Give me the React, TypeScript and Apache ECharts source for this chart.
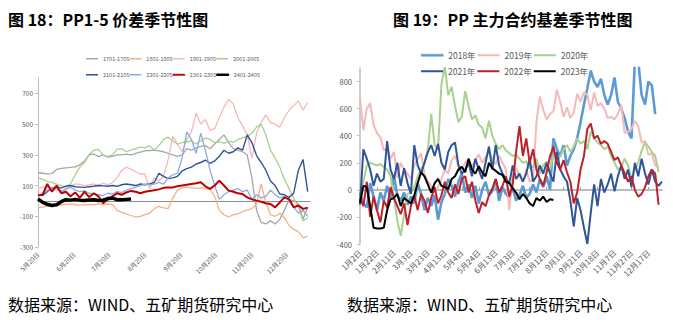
import React, { useEffect, useRef } from 'react';
import * as echarts from 'echarts';

// ---------- Left chart: PP1-5 spread seasonality ----------
const leftDateLabels = ['5月20日', '6月20日', '7月20日', '8月20日', '9月20日', '10月20日', '11月20日', '12月20日'];
const LEFT_STEP_DAYS = 4;
const LEFT_SPAN_DAYS = 234;

const s1701 = [185,180,176,178,205,212,215,218,222,235, 260,300,305,288,300,285,290,300,300,305, 300,310,318,325,328,330,325,320,310,300, 290,300,340,330,345,355,360,340,370,400, 430,380,340,330,320,300,150,-60,-140,-150, -130,-150,-120,-60,10,0,-20,-120,-40];
const s1801 = [-45,-40,-35,-30,-28,-25,-22,-20,-25,-28, -25,-22,-25,-20,-25,-20,-22,-60,-75,-85, -95,-105,-100,-90,-80,-50,-35,-45,-50,20, 70,85,90,85,82,85,80,75,30,-60, -90,-105,-90,-85,-70,-60,-50,-20,110,-10, -90,-100,-80,-110,-160,-185,-200,-240,-230];
const s1901 = [80,90,88,75,70,65,70,95,110,108, 100,105,110,100,115,105,120,150,200,220, 205,190,175,175,80,150,130,160,270,420, 370,320,400,450,570,500,530,460,470,545, 610,660,630,540,490,430,280,440,510,560, 510,500,480,545,590,620,650,590,640];
const s2001 = [150,140,125,120,110,100,95,110,170,220, 250,300,330,335,300,290,300,335,340,320, 330,340,350,345,360,330,360,400,415,390, 370,380,385,390,370,390,410,400,380,385, 375,390,380,400,410,420,440,480,500,430, 330,280,220,140,80,20,-40,-130,-110];
const s2101 = [40,35,60,85,90,85,95,100,92,90, 88,92,95,100,98,95,100,95,105,110, 105,100,110,105,110,120,180,160,145,150, 160,195,210,220,240,250,265,245,260,290, 330,310,320,345,330,430,380,295,250,200, 130,100,45,40,23,50,200,270,60];
const s2201 = [35,50,70,85,80,60,80,88,70,60, 65,50,45,40,35,50,45,60,55,70, 80,90,100,110,105,110,120,110,150,170, 180,280,450,400,310,440,330,200,100,10, 40,60,70,80,60,70,10,40,20,30, 70,40,20,30,10,-40,-80,-60,-100];
const s2301 = [35,40,110,60,100,50,60,30,55,20, 60,25,50,30,-15,10,30,50,40,55, 65,60,50,60,65,70,75,85,88,88, 95,100,105,110,115,121,95,78,100,132, 100,67,60,50,45,23,10,2,-5,-15, -20,-42,-10,23,10,-42,-30,-52,-45];
const s2401 = [13,-10,-22,-30,-25,-5,8,5,10,5, 2,6,8,3,5,15,18,8,8,10, 12];

// ---------- Right chart: PP main contract basis seasonality ----------
const rightDateLabels = ['1月2日','1月22日','2月11日','3月3日','3月23日','4月13日','5月4日','5月24日','6月13日','7月3日','7月23日','8月12日','9月1日','9月21日','10月18日','11月7日','11月27日','12月17日'];
const RIGHT_POINTS_PER_LABEL = 5;
const RIGHT_SPAN = 89;

const y2018 = [-20,-100,-130,50,-50,-150,-20,-80,30,-60, 100,-40,-80,-20,-110,-50,-100,50,-30,-150, -60,-120,-40,-220,-90,-30,80,30,-50,60, 120,-20,40,-60,30,-100,0,60,-40,-10, 80,-80,20,-30,-60,20,-80,-40,30,-60, -30,40,-20,80,20,100,0,380,300,250, 330,180,250,300,380,500,630,750,880,800, 760,820,700,630,700,830,650,600,530,430, 380,950,950,700,630,800,770,560];
const y2019 = [680,440,600,640,480,420,390,290,310,230, 280,90,200,150,120,80,180,230,270,120, 60,30,-20,20,80,150,120,220,250,180, 150,200,230,170,220,260,200,240,280,230, 190,250,200,150,-150,110,160,100,60,150, 60,80,500,690,590,520,560,580,740,650, 540,610,530,570,710,650,720,700,590,720, 620,640,600,530,540,520,560,630,420,430, 450,510,470,350,360,260,270,180,170];
const y2020 = [0,60,180,200,190,180,190,170,150,100, -60,-230,-340,-180,-30,-20,20,100,150,200, 300,560,330,300,780,910,700,760,620,500, 540,730,620,520,550,480,460,380,510,400, 340,300,330,290,270,250,260,230,200,210, 160,170,230,120,180,210,150,260,200,250, 300,330,280,320,380,340,360,300,430,380, 350,330,300,320,250,200,150,170,230,180, 80,150,200,290,350,320,280,250,130];
const y2021 = [-110,300,230,150,30,120,60,80,360,150, 80,200,30,160,50,-30,330,180,120,200, 280,330,250,340,200,150,280,330,350,180, 120,150,200,100,230,150,80,200,320,150, 330,180,120,80,50,180,80,120,60,120, 230,60,100,180,120,200,120,60,280,150, 100,60,-80,-270,-60,-150,-280,-400,-170,40, -120,80,-20,40,120,-10,100,180,80,150, 20,200,100,230,120,40,150,60,30,60];
const y2022 = [-60,-120,60,-200,-50,-150,-240,-80,-130,20, -60,-120,-180,-100,-260,-120,-40,-150,-30,-80, -170,-60,20,-100,-40,60,-20,-60,40,-30, 80,100,-20,60,-80,-170,-90,-120,-40,10, 80,-20,30,100,-50,40,280,470,250,380, 200,300,150,80,30,130,250,320,200,150, 220,130,60,-100,-20,150,250,450,490,380, 400,340,360,340,280,220,240,180,120,60, 100,0,-50,-30,20,100,150,120,-110];
const y2023 = [-95,30,20,-120,-280,-285,-285,-280,-150,-70, -60,-30,-120,-60,-80,-100,-40,50,130,100, 40,-20,50,80,30,20,5,80,100,150, 170,130,230,150,120,175,130,100,200,160, 140,120,110,60,50,10,-20,-70,-30,-60, -100,-120,-60,-80,-50,-90,-70,-75];

const FONT = '"Noto Sans CJK SC", "Noto Sans", sans-serif';
const GRAY_TEXT = '#595959';

function dayOffset(label: string): number {
  const m = parseInt(label, 10);
  return Math.round((Date.UTC(2023, m - 1, 20) - Date.UTC(2023, 4, 20)) / 86400000);
}

type SeriesDef = { name: string; data: number[]; color: string; width: number; legendBorder?: number };

export default function App() {
  const ref = useRef<HTMLDivElement>(null);

  useEffect(() => {
    if (!ref.current) return;
    const chart = echarts.init(ref.current, undefined, { renderer: 'svg' });

    const leftTicks = leftDateLabels.map(dayOffset);
    const leftLabelMap: Record<number, string> = {};
    leftTicks.forEach((d, i) => { leftLabelMap[d] = leftDateLabels[i]; });
    const rightTicks = rightDateLabels.map((_, i) => i * RIGHT_POINTS_PER_LABEL);

    const leftSeries: SeriesDef[] = [
      { name: '1701-1705', data: s1701, color: '#A6A6A6', width: 1.3 },
      { name: '1801-1805', data: s1801, color: '#F4B183', width: 1.3 },
      { name: '1901-1905', data: s1901, color: '#F6B8B8', width: 1.3 },
      { name: '2001-2005', data: s2001, color: '#A9D18E', width: 1.3 },
      { name: '2101-2105', data: s2101, color: '#2F5597', width: 1.4 },
      { name: '2201-2205', data: s2201, color: '#8FAADC', width: 1.3 },
      { name: '2301-2305', data: s2301, color: '#C00000', width: 2, legendBorder: 0.4 },
      { name: '2401-2405', data: s2401, color: '#000000', width: 3.5, legendBorder: 1 },
    ];
    const rightSeries: SeriesDef[] = [
      { name: '2018年', data: y2018, color: '#5B9BD5', width: 2.6, legendBorder: 0.5 },
      { name: '2019年', data: y2019, color: '#F4B9BA', width: 2 },
      { name: '2020年', data: y2020, color: '#A9D18E', width: 2 },
      { name: '2021年', data: y2021, color: '#2F5597', width: 2 },
      { name: '2022年', data: y2022, color: '#C0202A', width: 2 },
      { name: '2023年', data: y2023, color: '#000000', width: 2 },
    ];

    const series: any[] = [];
    leftSeries.forEach((s) => {
      series.push({
        type: 'line', name: s.name, xAxisIndex: 0, yAxisIndex: 0,
        data: s.data.map((v, i) => [i * LEFT_STEP_DAYS, v]),
        showSymbol: false, symbol: 'none', clip: true,
        itemStyle: { color: s.color },
        lineStyle: { color: s.color, width: s.width },
      });
    });
    rightSeries.forEach((s) => {
      series.push({
        type: 'line', name: s.name, xAxisIndex: 2, yAxisIndex: 1,
        data: s.data.map((v, i) => [i, v]),
        showSymbol: false, symbol: 'none', clip: true,
        itemStyle: { color: s.color },
        lineStyle: { color: s.color, width: s.width },
      });
    });

    const legendBase = (defs: SeriesDef[], left: number, top: number, fontSize: number, itemWidth: number, itemHeight: number, itemGap: number) => ({
      data: defs.map((d) => ({
        name: d.name,
        icon: 'rect',
        itemStyle: d.legendBorder ? { color: d.color, borderColor: d.color, borderWidth: d.legendBorder } : { color: d.color, borderWidth: 0 },
      })),
      left, top, padding: 0, itemWidth, itemHeight, itemGap,
      orient: 'horizontal', selectedMode: false,
      textStyle: { fontSize, color: GRAY_TEXT, fontFamily: FONT },
    });

    const option: any = {
      animation: false,
      backgroundColor: '#ffffff',
      textStyle: { fontFamily: FONT },
      title: [
        { text: '图 18：PP1-5 价差季节性图', left: 8, top: 11, padding: 0, textStyle: { fontSize: 16, fontWeight: 'bold', color: '#000', fontFamily: FONT } },
        { text: '图 19：PP 主力合约基差季节性图', left: 393, top: 11, padding: 0, textStyle: { fontSize: 16, fontWeight: 'bold', color: '#000', fontFamily: FONT } },
        { text: '数据来源：WIND、五矿期货研究中心', left: 8, top: 296, padding: 0, textStyle: { fontSize: 16, fontWeight: 'normal', color: '#000', fontFamily: FONT } },
        { text: '数据来源：WIND、五矿期货研究中心', left: 347, top: 296, padding: 0, textStyle: { fontSize: 16, fontWeight: 'normal', color: '#000', fontFamily: FONT } },
      ],
      legend: [
        legendBase(leftSeries.slice(0, 4), 86, 56, 5.5, 12, 1.5, 0),
        legendBase(leftSeries.slice(4), 86, 72, 5.5, 12, 1.5, 0),
        legendBase(rightSeries.slice(0, 3), 421, 51, 8.5, 22, 2, 2),
        legendBase(rightSeries.slice(3), 421, 67, 8.5, 22, 2, 2),
      ],
      grid: [
        { left: 38, top: 78, width: 272, height: 169 },
        { left: 360, top: 68, width: 302, height: 176 },
      ],
      xAxis: [
        {
          gridIndex: 0, type: 'value', min: 0, max: LEFT_SPAN_DAYS,
          axisLine: { show: false, onZero: false }, axisTick: { show: false }, splitLine: { show: false },
          axisLabel: {
            customValues: leftTicks, rotate: 45, fontSize: 6.5, color: GRAY_TEXT, margin: 6,
            formatter: (v: number) => leftLabelMap[v] ?? '',
          },
        },
        {
          gridIndex: 0, type: 'value', min: 0, max: LEFT_SPAN_DAYS,
          axisLine: { show: true, onZero: true, lineStyle: { color: '#8C8C8C', width: 1 } },
          axisTick: { show: false }, axisLabel: { show: false }, splitLine: { show: false },
        },
        {
          gridIndex: 1, type: 'value', min: 0, max: RIGHT_SPAN,
          axisLine: { show: false, onZero: false }, axisTick: { show: false }, splitLine: { show: false },
          axisLabel: {
            customValues: rightTicks, rotate: 45, fontSize: 8, color: GRAY_TEXT, margin: 7,
            formatter: (v: number) => rightDateLabels[Math.round(v / RIGHT_POINTS_PER_LABEL)] ?? '',
          },
        },
        {
          gridIndex: 1, type: 'value', min: 0, max: RIGHT_SPAN,
          axisLine: { show: true, onZero: true, lineStyle: { color: '#A6A6A6', width: 1.5 } },
          axisTick: { show: true, customValues: rightTicks, length: 3, lineStyle: { color: '#A6A6A6' } },
          axisLabel: { show: false }, splitLine: { show: false },
        },
      ],
      yAxis: [
        {
          gridIndex: 0, type: 'value', min: -300, max: 800, interval: 200,
          axisLine: { show: true, onZero: false, lineStyle: { color: '#BFBFBF', width: 1 } },
          axisTick: { show: true, length: 3, lineStyle: { color: '#BFBFBF' } },
          splitLine: { show: false },
          axisLabel: { fontSize: 6.5, color: GRAY_TEXT, margin: 5, showMaxLabel: false },
        },
        {
          gridIndex: 1, type: 'value', min: -400, max: 900, interval: 200,
          axisLine: { show: true, onZero: false, lineStyle: { color: '#BFBFBF', width: 1.5 } },
          axisTick: { show: true, length: 3, lineStyle: { color: '#BFBFBF' } },
          splitLine: { show: false },
          axisLabel: { fontSize: 7.5, color: GRAY_TEXT, margin: 8, showMaxLabel: false },
        },
      ],
      series,
    };

    chart.setOption(option);
    return () => { chart.dispose(); };
  }, []);

  return <div ref={ref} style={{ position: 'fixed', left: 0, top: 0, width: 673, height: 331 }} />;
}
